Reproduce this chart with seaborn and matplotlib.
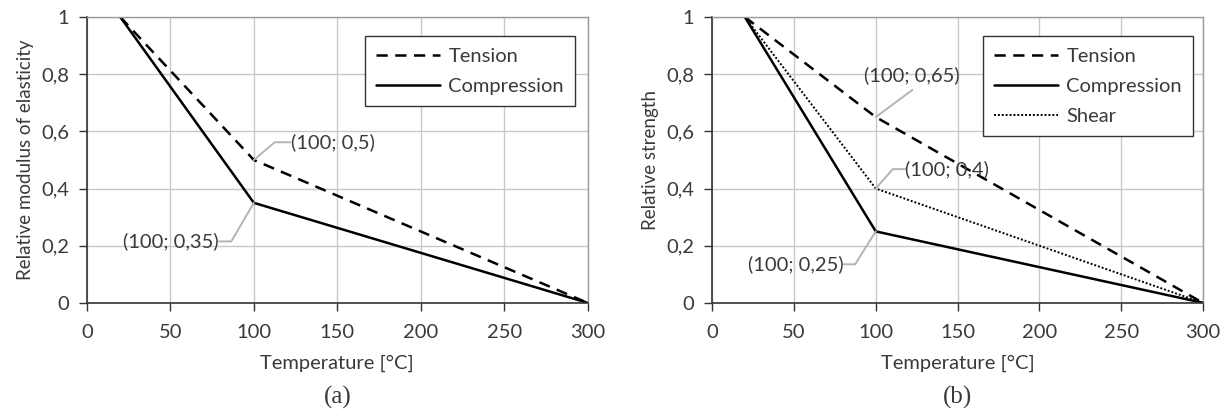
import numpy as np
import pandas as pd
import seaborn as sns
import matplotlib.pyplot as plt
from matplotlib.ticker import FuncFormatter

# data
temperature = [20, 100, 300]
modulus_tension = [1.0, 0.5, 0.0]
modulus_compression = [1.0, 0.35, 0.0]
strength_tension = [1.0, 0.65, 0.0]
strength_compression = [1.0, 0.25, 0.0]
strength_shear = [1.0, 0.4, 0.0]

x_ticks = [0, 50, 100, 150, 200, 250, 300]
y_ticks = [0, 0.2, 0.4, 0.6, 0.8, 1.0]

sns.set_theme(style="whitegrid")
plt.rcParams['font.family'] = ['Lato', 'DejaVu Sans']

FS = 14.5
TXT = '#3a3a3a'
styles = {
    'Tension': dict(linestyle=(0, (4.5, 3)), linewidth=1.8),
    'Compression': dict(linestyle='-', linewidth=1.8),
    'Shear': dict(linestyle=(0, (1, 1)), linewidth=1.4),
}


def comma(v, pos):
    return f"{v:g}".replace('.', ',')


def style_axes(ax, ylabel):
    ax.set_xlim(0, 300)
    ax.set_ylim(0, 1)
    ax.set_xticks(x_ticks)
    ax.set_yticks(y_ticks)
    ax.yaxis.set_major_formatter(FuncFormatter(comma))
    ax.grid(True, color='#c8c8c8', linewidth=1.0)
    ax.set_axisbelow(True)
    for side in ['top', 'right']:
        ax.spines[side].set_color('#9a9a9a')
        ax.spines[side].set_linewidth(1.0)
    for side in ['left', 'bottom']:
        ax.spines[side].set_color('#333333')
        ax.spines[side].set_linewidth(1.2)
    ax.tick_params(axis='both', which='both', direction='out', length=6, width=1,
                   color='#333333', labelsize=FS, labelcolor=TXT)
    ax.tick_params(axis='x', bottom=True, pad=9)
    ax.tick_params(axis='y', left=True, pad=7)
    ax.set_xlabel('Temperature [°C]', fontsize=FS, labelpad=10, color=TXT)
    ax.set_ylabel(ylabel, fontsize=13.5, labelpad=5, color=TXT)


def note(ax, text, xy, elbow, text_x, ha):
    ax.plot([xy[0], elbow[0], text_x], [xy[1], elbow[1], elbow[1]],
            color='#b4b4b4', linewidth=1.4, zorder=4)
    ax.text(text_x, elbow[1], text, fontsize=FS, ha=ha, va='center',
            color=TXT, zorder=5)


def draw_panel(ax, series, ylabel, tag, legend_anchor):
    for name, values in series.items():
        df = pd.DataFrame({'Temperature': temperature, 'Value': values})
        sns.lineplot(data=df, x='Temperature', y='Value', ax=ax, color='black',
                     label=name, **styles[name])
    style_axes(ax, ylabel)
    leg = ax.legend(loc='upper right', bbox_to_anchor=legend_anchor, fontsize=FS,
                    frameon=True, fancybox=False, handlelength=3.2,
                    borderpad=0.55, labelspacing=0.65, handletextpad=0.4,
                    borderaxespad=0)
    leg.get_frame().set_edgecolor('#333333')
    leg.get_frame().set_linewidth(1.0)
    leg.get_frame().set_alpha(1)
    for t in leg.get_texts():
        t.set_color(TXT)
    ax.text(0.5, -0.33, tag, transform=ax.transAxes, ha='center', va='center',
            fontsize=18, family='Liberation Serif', color=TXT)


fig = plt.figure(figsize=(12.3, 4.16), dpi=100)
ax_a = fig.add_axes([0.0707, 0.272, 0.407, 0.687])
ax_b = fig.add_axes([0.579, 0.272, 0.399, 0.687])

draw_panel(ax_a, {'Tension': modulus_tension, 'Compression': modulus_compression},
           'Relative modulus of elasticity', '(a)', (0.975, 0.932))
note(ax_a, '(100; 0,5)', (100, 0.5), (112.5, 0.562), 122, 'left')
note(ax_a, '(100; 0,35)', (100, 0.35), (86.5, 0.215), 79, 'right')

draw_panel(ax_b, {'Tension': strength_tension, 'Compression': strength_compression,
                  'Shear': strength_shear},
           'Relative strength', '(b)', (0.98, 0.932))
ax_b.plot([100, 122.4], [0.65, 0.745], color='#b4b4b4', linewidth=1.4, zorder=4)
ax_b.text(122, 0.795, '(100; 0,65)', fontsize=FS, ha='center', va='center',
          color=TXT, zorder=5)
note(ax_b, '(100; 0,4)', (100, 0.4), (110.4, 0.468), 118, 'left')
note(ax_b, '(100; 0,25)', (100, 0.25), (87.4, 0.135), 80.5, 'right')

plt.savefig('out.png', dpi=100)
plt.close()
